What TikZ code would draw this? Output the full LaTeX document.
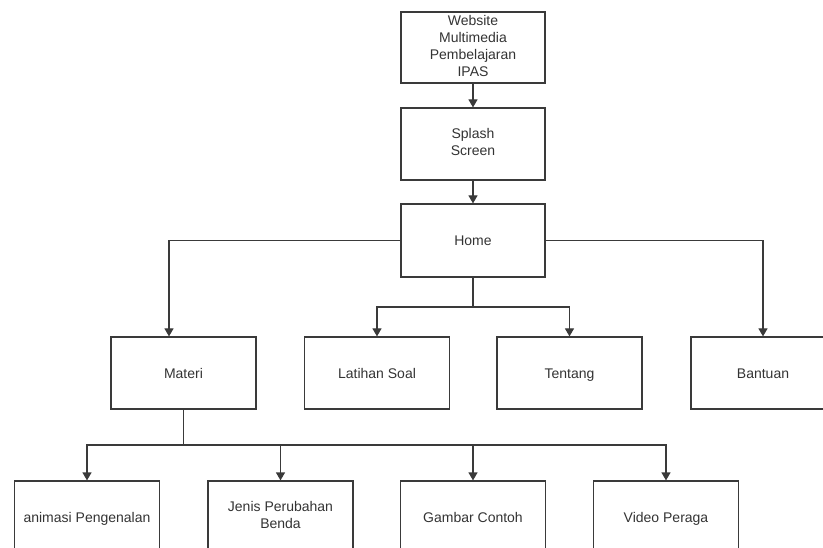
\documentclass[tikz,border=0pt]{standalone}
\usepackage{fontspec}
\setmainfont{Liberation Sans}
\usetikzlibrary{arrows.meta}
\definecolor{txt}{HTML}{333333}
\definecolor{edge}{HTML}{3A3A3A}
\newcommand\mytopstr{\rule{0pt}{14pt}}
\newcommand\mybotstr{\rule[-4pt]{0pt}{4pt}}
\begin{document}
\begin{tikzpicture}[x=1pt,y=-1pt,
  box/.style={draw=edge,line width=1.2pt,rectangle,minimum width=145pt,minimum height=72pt,
    inner sep=0pt,align=center,text=txt,font=\fontsize{14}{17}\selectfont,
    execute at begin node=\mytopstr, execute at end node=\mybotstr},
  conn/.style={draw=edge,line width=1.2pt,-{Triangle[length=8pt,width=9pt]}},
  line/.style={draw=edge,line width=1.2pt}]
\useasboundingbox (0,0) rectangle (823,548);
\node[box,minimum width=144pt,minimum height=71pt] (web) at (473,47.5) {Website\\Multimedia\\Pembelajaran\\IPAS};
\node[box,minimum width=144pt,minimum height=72pt] (splash) at (473,144) {Splash\\Screen};
\node[box,minimum width=144pt,minimum height=73pt] (home) at (473,240.5) {Home};
\node[box] (materi) at (183.5,373) {Materi};
\node[box] (latihan) at (377,373) {Latihan Soal};
\node[box] (tentang) at (569.5,373) {Tentang};
\node[box,minimum width=144pt] (bantuan) at (763,373) {Bantuan};
\node[box] (anim) at (87,517) {animasi Pengenalan};
\node[box] (jenis) at (280.5,517) {Jenis Perubahan\\Benda};
\node[box] (gambar) at (473,517) {Gambar Contoh};
\node[box] (video) at (666,517) {Video Peraga};
\coordinate (hl) at (169,240.5);
\coordinate (hr) at (763,240.5);
\coordinate (hb) at (473,307);
\coordinate (mb) at (183.5,445);
\draw[conn] (web.south) -- (splash.north);
\draw[conn] (splash.south) -- (home.north);
\draw[conn] (home.west) -- (hl) -- (hl |- materi.north);
\draw[conn] (home.east) -- (hr) -- (bantuan.north);
\draw[line] (home.south) -- (hb);
\draw[conn] (hb) -| (latihan.north);
\draw[conn] (hb) -| (tentang.north);
\draw[line] (materi.south) -- (mb);
\draw[conn] (mb) -| (anim.north);
\draw[conn] (mb) -| (jenis.north);
\draw[conn] (mb) -| (gambar.north);
\draw[conn] (mb) -| (video.north);
\end{tikzpicture}
\end{document}
